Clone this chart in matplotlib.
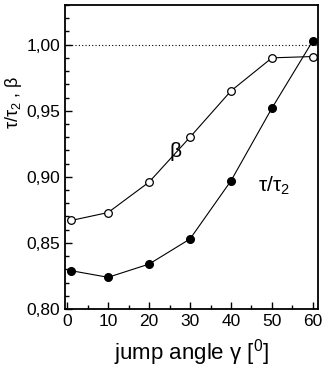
import matplotlib
matplotlib.use("Agg")
import matplotlib.pyplot as plt
from matplotlib.ticker import FuncFormatter, MultipleLocator

plt.rcParams["font.family"] = ["Liberation Sans", "DejaVu Sans"]
plt.rcParams["mathtext.fontset"] = "custom"
plt.rcParams["mathtext.rm"] = "Liberation Sans"
plt.rcParams["mathtext.it"] = "Liberation Sans"

angle = [1, 10, 20, 30, 40, 50, 60]
beta = [0.867, 0.873, 0.896, 0.930, 0.965, 0.990, 0.991]
tau_ratio = [0.829, 0.824, 0.834, 0.853, 0.897, 0.952, 1.003]

fig = plt.figure(figsize=(3.27, 3.82), dpi=100)
ax = fig.add_axes([0.199, 0.191, 0.773, 0.796])

ax.axhline(1.0, color="black", lw=0.8, ls=(0, (1, 2)))
ax.plot(angle, beta, "-o", color="black", lw=0.8, ms=5.5, mfc="white",
        mec="black", mew=0.9)
ax.plot(angle, tau_ratio, "-o", color="black", lw=0.8, ms=5.5, mfc="black",
        mec="black")

ax.text(26.5, 0.919, "β", fontsize=15, ha="center", va="center")
ax.text(50.5, 0.893, "τ/τ$_2$", fontsize=15, ha="center", va="center")

ax.set_xlim(-0.5, 61.2)
ax.set_ylim(0.80, 1.03)
ax.xaxis.set_major_locator(MultipleLocator(10))
ax.xaxis.set_minor_locator(MultipleLocator(5))
ax.yaxis.set_major_locator(MultipleLocator(0.05))
ax.yaxis.set_minor_locator(MultipleLocator(0.01))
ax.yaxis.set_major_formatter(FuncFormatter(lambda v, p: f"{v:.2f}".replace(".", ",")))
ax.tick_params(which="both", direction="in", labelsize=12.5, width=1.0)
ax.tick_params(which="major", length=5)
ax.tick_params(which="minor", length=3)
for s in ax.spines.values():
    s.set_linewidth(1.3)

ax.set_xlabel("jump angle γ [$^0$]", fontsize=16, labelpad=6)
ax.set_ylabel("τ/τ$_2$ , β", fontsize=13)
ax.yaxis.set_label_coords(-0.163, 0.68)

fig.savefig("out.png", dpi=100)
